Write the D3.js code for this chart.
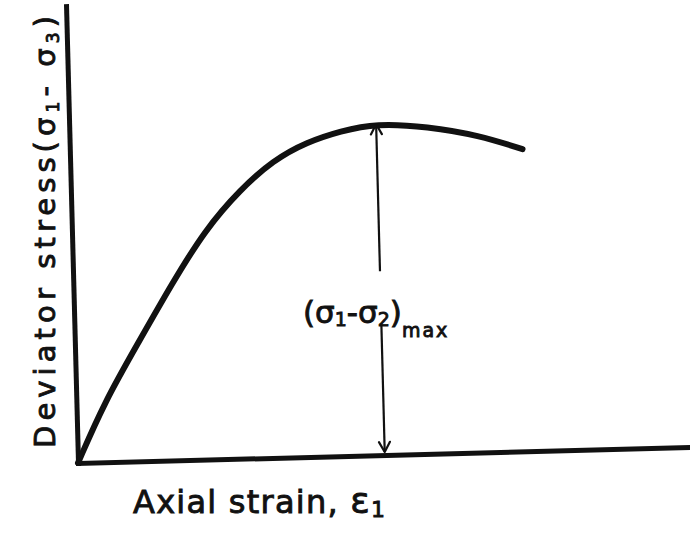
<!DOCTYPE html>
<html>
<head>
<meta charset="utf-8">
<script src="https://cdn.jsdelivr.net/npm/d3@7"></script>
<style>
  body { margin: 0; background: #fff; }
  svg { display: block; }
</style>
</head>
<body>
<div id="chart"></div>
<script>
// stress-strain curve (strain %, deviator stress, arbitrary units)
var strain = [0, 0.9, 2.05, 3.2, 4.3, 5.45, 6.55, 7.65, 8.75, 9.9, 11.55, 13.2, 14.6];
var stress = [0, 13.1, 26.0, 38.9, 50.3, 58.8, 65.1, 68.9, 71.1, 72.6, 71.6, 69.4, 66.1];
var peakStrain = 9.9, peakStress = 72.6;
var labelGap = [28.8, 40.2]; // where the arrow is broken for the label

var xTitle = "Axial strain, ";
var yTitle = "Deviator stress(";

var data = strain.map(function(d, i) { return { x: d, y: stress[i] }; });

var width = 690, height = 534;
var originX = 78, originY = 463;
var plotW = 620, plotH = 457;

var svg = d3.select("#chart")
    .append("svg")
    .attr("width", width)
    .attr("height", height);

// arrow heads (open V)
svg.append("defs").append("marker")
    .attr("id", "head")
    .attr("viewBox", "0 0 14 14")
    .attr("refX", 12).attr("refY", 7)
    .attr("markerWidth", 14).attr("markerHeight", 14)
    .attr("markerUnits", "userSpaceOnUse")
    .attr("orient", "auto")
    .append("path")
    .attr("d", "M2,1.5 L12,7 L2,12.5")
    .attr("fill", "none")
    .attr("stroke", "#111")
    .attr("stroke-width", 2.2)
    .attr("stroke-linecap", "round")
    .attr("stroke-linejoin", "round");

// the scan is slightly tilted, so the plot group is too
var g = svg.append("g")
    .attr("transform", "translate(" + originX + "," + originY + ") rotate(-1.5)");

var x = d3.scaleLinear().domain([0, 20]).range([0, plotW]);
var y = d3.scaleLinear().domain([0, 100]).range([0, -plotH]);

// X axis
g.append("g")
    .attr("class", "x axis")
    .call(d3.axisBottom(x).tickValues([]).tickSizeOuter(0));

// Y axis
g.append("g")
    .attr("class", "y axis")
    .call(d3.axisLeft(y).tickValues([]).tickSizeOuter(0));

g.selectAll(".axis path")
    .attr("stroke", "#111")
    .attr("stroke-width", 5)
    .attr("stroke-linecap", "square");

// curve
var line = d3.line()
    .x(function(d) { return x(d.x); })
    .y(function(d) { return y(d.y); })
    .curve(d3.curveBasis);

g.append("path")
    .datum(data)
    .attr("d", line)
    .attr("fill", "none")
    .attr("stroke", "#111")
    .attr("stroke-width", 6)
    .attr("stroke-linecap", "round")
    .attr("stroke-linejoin", "round");

// (s1 - s3)max arrow, broken around the label
g.append("line")
    .attr("x1", x(peakStrain)).attr("x2", x(peakStrain))
    .attr("y1", y(labelGap[1])).attr("y2", y(peakStress) + 1)
    .attr("stroke", "#111")
    .attr("stroke-width", 2.2)
    .attr("marker-end", "url(#head)");

g.append("line")
    .attr("x1", x(peakStrain)).attr("x2", x(peakStrain))
    .attr("y1", y(labelGap[0])).attr("y2", y(0) - 3)
    .attr("stroke", "#111")
    .attr("stroke-width", 2.2)
    .attr("marker-end", "url(#head)");

// labels
var font = "'DejaVu Sans', sans-serif";

function ink(sel) {
    return sel.attr("font-family", font)
        .attr("fill", "#111")
        .attr("stroke", "#111")
        .attr("stroke-width", 0.9);
}

var xt = ink(svg.append("text"))
    .attr("x", 133)
    .attr("y", 513)
    .attr("font-size", 32)
    .attr("textLength", 252)
    .attr("lengthAdjust", "spacing");
xt.append("tspan").text(xTitle);
xt.append("tspan").attr("font-size", 36).text("ε");
xt.append("tspan").attr("font-size", 22).attr("dy", 4).text("1");

var yt = ink(svg.append("text"))
    .attr("transform", "translate(55,448) rotate(-90)")
    .attr("font-size", 29)
    .attr("textLength", 432)
    .attr("lengthAdjust", "spacing");
yt.append("tspan").text(yTitle);
yt.append("tspan").text("σ");
yt.append("tspan").attr("font-size", 17).attr("dy", 4).text("1");
yt.append("tspan").attr("dy", -4).text("- σ");
yt.append("tspan").attr("font-size", 17).attr("dy", 4).text("3");
yt.append("tspan").attr("dy", -4).text(")");

var at = ink(svg.append("text"))
    .attr("x", 303)
    .attr("y", 323)
    .attr("font-size", 31);
at.append("tspan").text("(σ");
at.append("tspan").attr("font-size", 19).attr("dy", 3).text("1");
at.append("tspan").attr("dy", -3).text("-σ");
at.append("tspan").attr("font-size", 19).attr("dy", 3).text("2");
at.append("tspan").attr("dy", -3).text(")");
at.append("tspan").attr("font-size", 19).attr("letter-spacing", 2).attr("dy", 14).text("max");
</script>
</body>
</html>
